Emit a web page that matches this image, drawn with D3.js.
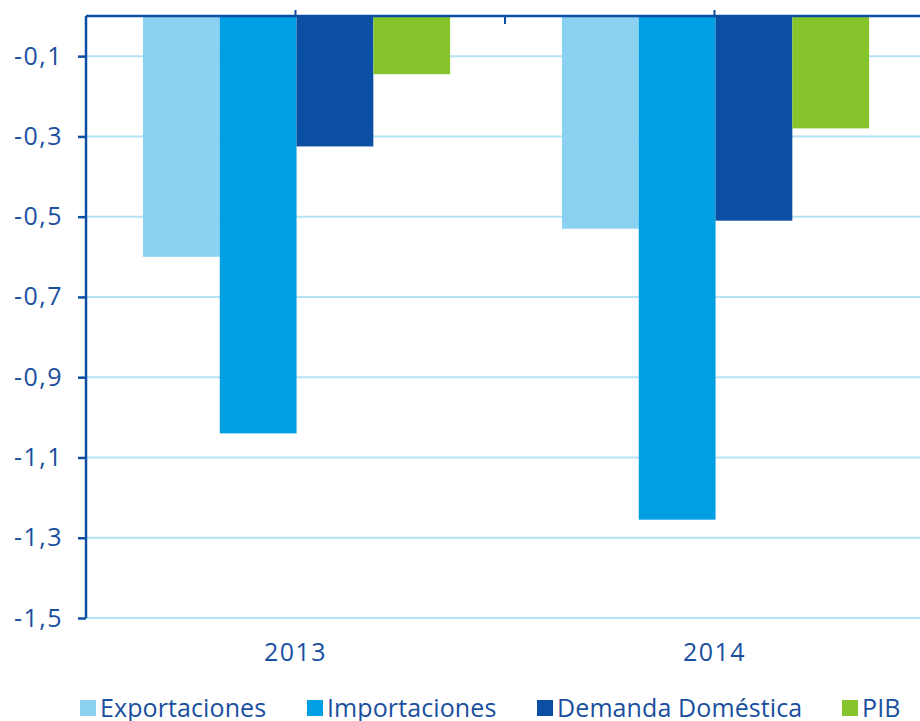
<!DOCTYPE html>
<html><head><meta charset="utf-8">
<script src="https://cdn.jsdelivr.net/npm/d3@7"></script>
<style>body{margin:0;background:#fff;} svg{display:block;} text{font-family:"Open Sans",sans-serif;}</style>
</head><body>
<svg id="c" width="920" height="721"></svg>
<script>
const years = ["2013", "2014"];
const seriesNames = ["Exportaciones", "Importaciones", "Demanda Doméstica", "PIB"];
const exportaciones = [-0.60, -0.53];
const importaciones = [-1.04, -1.255];
const demanda = [-0.325, -0.51];
const pib = [-0.145, -0.28];
const yTicks = [-0.1, -0.3, -0.5, -0.7, -0.9, -1.1, -1.3, -1.5];
const colors = ["#8bd1f1", "#009fe3", "#0a4fa3", "#86c42c"];

(function () {
const values = [exportaciones, importaciones, demanda, pib];
const axisColor = "#0c4ea2";
const textColor = "#1a4f9f";

const svg = d3.select("#c");
const mLeft = 86, mRight = 924, mTop = 16, mBottom = 618;

const y = d3.scaleLinear().domain([0, -1.5]).range([mTop, mBottom]);
const x0 = d3.scaleBand().domain(years).range([mLeft, mRight]).padding(0);
const bw = x0.bandwidth();
const x1 = d3.scaleBand().domain(seriesNames).range([bw * 0.136, bw * 0.869]).padding(0);

// gridlines
svg.append("g").selectAll("line").data(yTicks).join("line")
  .attr("x1", mLeft).attr("x2", 920)
  .attr("y1", d => y(d)).attr("y2", d => y(d))
  .attr("stroke", "#b5e3f6").attr("stroke-width", 2);

// bars
const groups = svg.append("g").selectAll("g").data(years).join("g")
  .attr("transform", d => `translate(${x0(d)},0)`);
groups.selectAll("rect").data((d, i) => seriesNames.map((s, j) => ({s, v: values[j][i], c: colors[j]})))
  .join("rect")
  .attr("x", d => x1(d.s))
  .attr("width", x1.bandwidth())
  .attr("y", y(0))
  .attr("height", d => y(d.v) - y(0))
  .attr("fill", d => d.c);

// y axis
const yAxis = d3.axisLeft(y).tickValues(yTicks).tickSize(8).tickPadding(15)
  .tickFormat(d => d3.format(".1f")(d).replace(".", ",").replace("−", "-"));
const ga = svg.append("g").attr("transform", `translate(${mLeft},0)`).call(yAxis);
ga.select(".domain").attr("d", `M0,${y(0)}V${mBottom}`).attr("stroke", axisColor).attr("stroke-width", 2.5);
ga.selectAll(".tick line").attr("stroke", axisColor).attr("stroke-width", 2.5);
ga.selectAll(".tick text").attr("fill", textColor)
  .style("font-size", "25px").style("letter-spacing", "1.5px")
  .style("font-family", "'Open Sans',sans-serif");

// top x axis line
svg.append("line").attr("x1", mLeft).attr("x2", 920).attr("y1", y(0)).attr("y2", y(0))
  .attr("stroke", axisColor).attr("stroke-width", 2.5);
svg.append("g").selectAll("line").data(years).join("line")
  .attr("x1", d => x0(d) + bw / 2).attr("x2", d => x0(d) + bw / 2)
  .attr("y1", y(0) - 6).attr("y2", y(0))
  .attr("stroke", axisColor).attr("stroke-width", 2);
svg.append("line").attr("x1", x0(years[1])).attr("x2", x0(years[1]))
  .attr("y1", y(0)).attr("y2", y(0) + 8)
  .attr("stroke", axisColor).attr("stroke-width", 2);

// year labels
svg.append("g").selectAll("text").data(years).join("text")
  .attr("x", d => x0(d) + bw / 2).attr("y", 661)
  .attr("text-anchor", "middle").attr("fill", textColor)
  .style("font-size", "25px").style("letter-spacing", "1.5px").text(d => d);

// legend
const legendX = [80, 307, 537, 842];
const lg = svg.append("g").selectAll("g").data(seriesNames).join("g")
  .attr("transform", (d, i) => `translate(${legendX[i]},700)`);
lg.append("rect").attr("width", 16).attr("height", 16).attr("fill", (d, i) => colors[i]);
lg.append("text").attr("x", 20).attr("y", 17).attr("fill", textColor)
  .style("font-size", "25px").style("letter-spacing", "0.1px").text(d => d);
})();
</script>
</body></html>
